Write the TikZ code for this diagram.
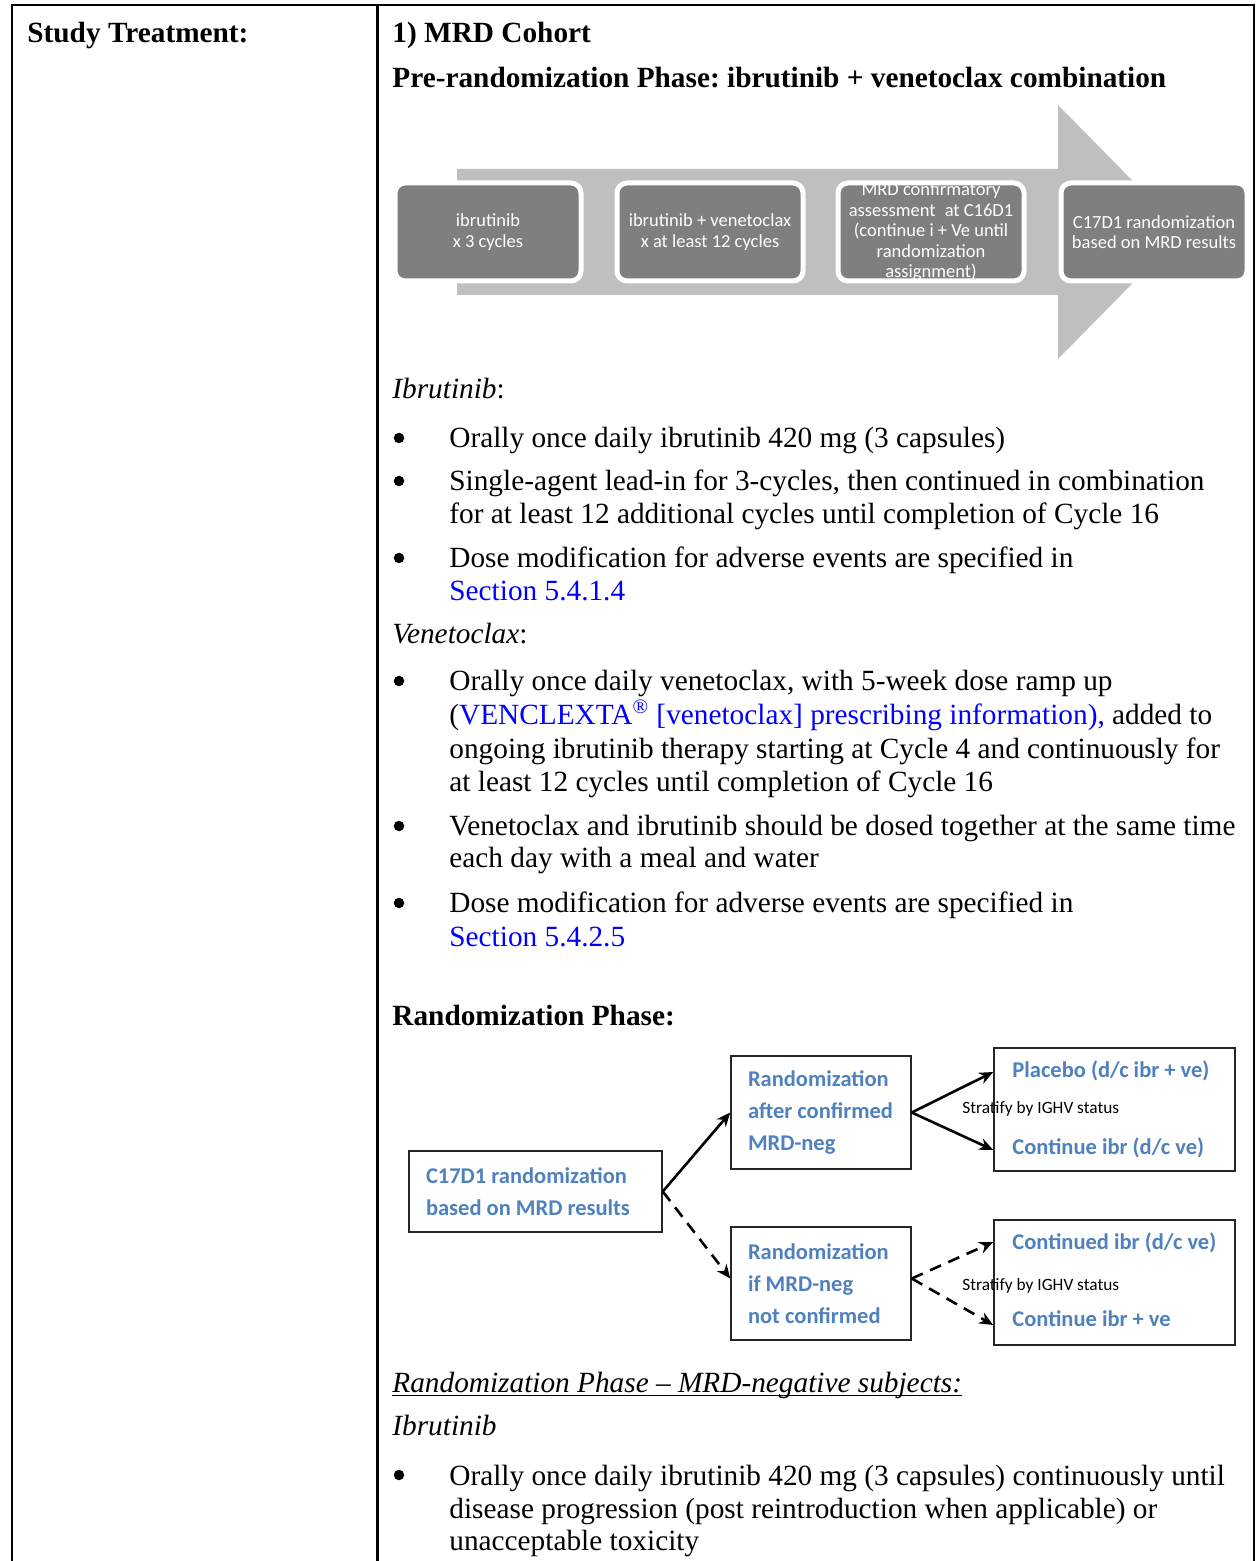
\documentclass[tikz,border=0pt]{standalone}
\usepackage{fontspec}
\setmainfont{Liberation Serif}
\newfontfamily\calfont{Carlito}
\usetikzlibrary{arrows.meta}
\definecolor{linkblue}{HTML}{0000FF}
\definecolor{diagblue}{HTML}{4F81BD}
\definecolor{arrowgray}{HTML}{BFBFBF}
\definecolor{boxgray}{HTML}{7F7F7F}
\frenchspacing
\begin{document}
\begin{tikzpicture}[x=0.5pt,y=-0.5pt,
  body/.style={anchor=base west, inner sep=0pt, font=\fontsize{14.65}{17}\selectfont},
  bodyb/.style={anchor=base west, inner sep=0pt, font=\fontsize{14.65}{17}\selectfont\bfseries},
  bulletdot/.style={circle, fill=black, inner sep=0pt, minimum size=5.25pt},
  tbl/.style={line width=1pt, black},
  chev/.style={draw=white, line width=2.5pt, fill=boxgray, rounded corners=5pt,
    minimum width=93pt, minimum height=49pt, inner xsep=1pt, inner ysep=0pt,
    align=center, text=white, font=\calfont\fontsize{9.25}{10.25}\selectfont},
  rbox/.style={draw=black!85, line width=0.75pt, inner xsep=8.5pt, inner ysep=0pt,
    align=flush left, text=diagblue, font=\calfont\bfseries\fontsize{11.25}{16}\selectfont},
  rtxt/.style={anchor=base west, inner sep=0pt, text=diagblue, font=\calfont\bfseries\fontsize{11.25}{16}\selectfont},
  strat/.style={anchor=base west, inner sep=0pt, text=black, font=\calfont\fontsize{8.65}{10}\selectfont},
  conn/.style={line width=1.3pt, -{Stealth[length=7pt,width=6pt]}},
  dconn/.style={conn, dash pattern=on 6pt off 4pt}
]
\useasboundingbox (0,0) rectangle (1256,1561);
\fill[white] (0,0) rectangle (1256,1561);

% table frame
\draw[tbl] (11.5,1561) -- (11.5,5.5) -- (1253.5,5.5) -- (1253.5,1561);
\draw[line width=1.3pt] (377.5,5.5) -- (377.5,1561);

% headers
\node[bodyb] (hst) at (27,43) {Study Treatment:};
\node[bodyb] (hmrd) at (392,43) {1) MRD Cohort};
\node[bodyb] (hpre) at (392,88) {Pre-randomization Phase: ibrutinib + venetoclax combination};

% chevron arrow
\fill[arrowgray] (457,169) -- (1058,169) -- (1058,105) -- (1183,232) -- (1058,359) -- (1058,295) -- (457,295) -- cycle;
\node[chev] (c1) at (488,232) {ibrutinib\\x 3 cycles};
\node[chev] (c2) at (710,232) {ibrutinib + venetoclax\\x at least 12 cycles};
\node[chev] (c3) at (931,232) {MRD confirmatory\\assessment\enspace at C16D1\\(continue i + Ve until\\randomization\\assignment)};
\node[chev] (c4) at (1154,232) {C17D1 randomization\\based on MRD results};

% Ibrutinib section
\node[body] (ib) at (392,399) {\textit{Ibrutinib}:};
\node[bulletdot] (b1) at (399,438) {};
\node[body] (l1) at (449,447) {Orally once daily ibrutinib 420 mg (3 capsules)};
\node[bulletdot] (b2) at (399,481) {};
\node[body] (l2) at (449,490) {Single-agent lead-in for 3-cycles, then continued in combination};
\node[body] (l3) at (449,523) {for at least 12 additional cycles until completion of Cycle 16};
\node[bulletdot] (b3) at (399,558) {};
\node[body] (l4) at (449,567) {Dose modification for adverse events are specified in};
\node[body, text=linkblue] (l5) at (449,600) {Section 5.4.1.4};

% Venetoclax section
\node[body] (ve) at (392,643) {\textit{Venetoclax}:};
\node[bulletdot] (b4) at (399,681) {};
\node[body] (l6) at (449,690) {Orally once daily venetoclax, with 5-week dose ramp up};
\node[body] (l7) at (449,724) {(\textcolor{linkblue}{VENCLEXTA\textsuperscript{®} [venetoclax] prescribing information),} added to};
\node[body] (l8) at (449,758) {ongoing ibrutinib therapy starting at Cycle 4 and continuously for};
\node[body] (l9) at (449,791) {at least 12 cycles until completion of Cycle 16};
\node[bulletdot] (b5) at (399,826) {};
\node[body] (l10) at (449,835) {Venetoclax and ibrutinib should be dosed together at the same time};
\node[body] (l11) at (449,867) {each day with a meal and water};
\node[bulletdot] (b6) at (399,903) {};
\node[body] (l12) at (449,912) {Dose modification for adverse events are specified in};
\node[body, text=linkblue] (l13) at (449,946) {Section 5.4.2.5};

% Randomization phase
\node[bodyb] (rp) at (392,1025) {Randomization Phase:};

\node[rbox, minimum width=126.5pt, minimum height=40.5pt, text width=109.5pt] (A) at (535.5,1191.5)
  {C17D1 randomization\\based on MRD results};
\node[rbox, minimum width=90pt, minimum height=56.5pt, text width=73pt] (B) at (821,1112.5)
  {Randomization\\after~confirmed\\MRD-neg};
\node[rbox, minimum width=90pt, minimum height=56.5pt, text width=73pt] (C) at (821,1283.5)
  {Randomization\\if MRD-neg\\not~confirmed};
\node[rbox, minimum width=120.5pt, minimum height=61.5pt] (D) at (1114.5,1109.5) {};
\node[rbox, minimum width=120.5pt, minimum height=62.5pt] (E) at (1114.5,1282.5) {};

\node[rtxt] (d1) at (1012,1077) {Placebo (d/c ibr + ve)};
\node[rtxt] (d2) at (1012,1154) {Continue ibr (d/c ve)};
\node[rtxt] (e1) at (1012,1249) {Continued ibr (d/c ve)};
\node[rtxt] (e2) at (1012,1326) {Continue ibr + ve};
\node[strat] (s1) at (962,1113) {Stratify by IGHV status};
\node[strat] (s2) at (962,1290) {Stratify by IGHV status};

\draw[conn] (A.east) -- (B.west);
\draw[dconn] (A.east) -- ([yshift=2.5pt]C.west);
\draw[conn] (B.east) -- ([yshift=18.75pt]D.west);
\draw[conn] (B.east) -- ([yshift=-20.25pt]D.west);
\draw[dconn] ([yshift=2.5pt]C.east) -- ([yshift=20.25pt]E.west);
\draw[dconn] ([yshift=2.5pt]C.east) -- ([yshift=-21.25pt]E.west);

% MRD-negative subjects
\node[body] (rpm) at (392,1392) {\textit{Randomization Phase – MRD-negative subjects:}};
\draw[line width=0.5pt] ([yshift=-1.5pt]rpm.base west) -- ([yshift=-1.5pt]rpm.base east);
\node[body] (ib2) at (392,1435) {\textit{Ibrutinib}};
\node[bulletdot] (b7) at (399,1475) {};
\node[body] (l14) at (449,1485) {Orally once daily ibrutinib 420 mg (3 capsules) continuously until};
\node[body] (l15) at (449,1518) {disease progression (post reintroduction when applicable) or};
\node[body] (l16) at (449,1550) {unacceptable toxicity};
\end{tikzpicture}
\end{document}
